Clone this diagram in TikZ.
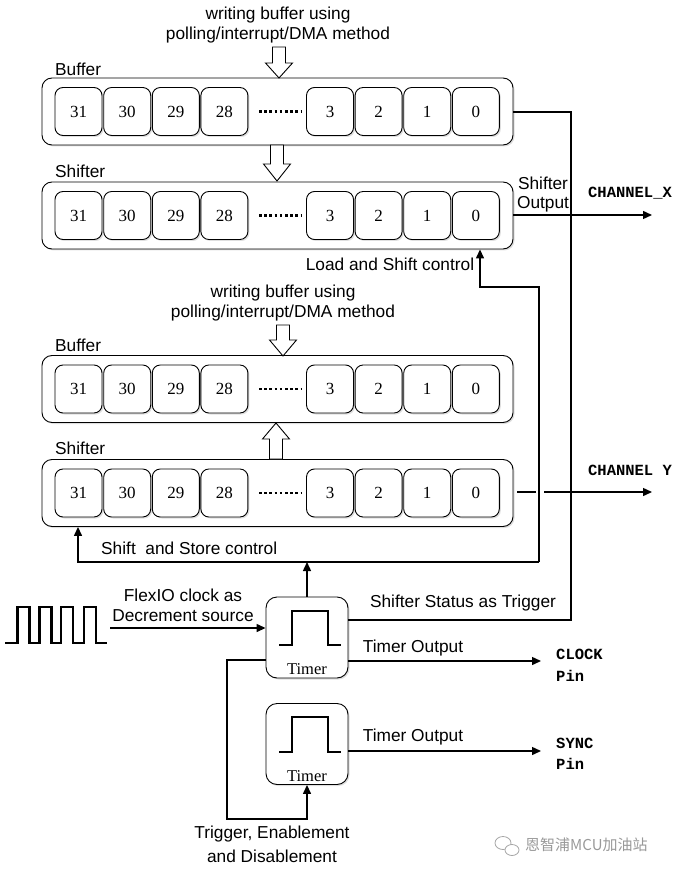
\documentclass[tikz,border=0pt]{standalone}
\usepackage{fontspec}
\setmainfont{Liberation Sans}
\newfontfamily\numfont{Liberation Serif}
\newfontfamily\chanfont{Liberation Mono}
\newfontfamily\cjkfont{Noto Sans CJK SC}
\usetikzlibrary{arrows.meta,shadows}
\begin{document}
\begin{tikzpicture}[x=1pt,y=-1pt,
  lbl/.style={font=\fontsize{17.3}{20}\selectfont, inner sep=0pt},
  chan/.style={font=\chanfont\bfseries\fontsize{15.5}{19}\selectfont, inner sep=0pt},
  outerbox/.style={draw, line width=0.9pt, rounded corners=10pt, fill=white,
    minimum width=471pt, minimum height=67pt, inner sep=0pt,
    drop shadow={opacity=0.25, shadow xshift=1.5pt, shadow yshift=-1.5pt}},
  cellbox/.style={draw, line width=0.9pt, rounded corners=8pt, fill=white,
    minimum width=47pt, minimum height=48pt, inner sep=0pt,
    font=\numfont\fontsize{17}{20}\selectfont,
    drop shadow={opacity=0.25, shadow xshift=1.5pt, shadow yshift=-1.5pt}},
  timerbox/.style={draw, line width=0.9pt, rounded corners=11pt, fill=white,
    minimum width=82pt, minimum height=81pt, inner sep=0pt,
    drop shadow={opacity=0.25, shadow xshift=1.5pt, shadow yshift=-1.5pt}},
  timerlbl/.style={font=\numfont\fontsize{16.5}{19}\selectfont, inner sep=0pt},
  hollow/.style={draw, line width=0.9pt, fill=white},
  wire/.style={line width=1.4pt},
  arr/.style={line width=1.4pt, -{Triangle[length=9pt,width=8pt]}},
  wave/.style={line width=2.6pt},
  dotsline/.style={line width=2.8pt, dash pattern=on 2.6pt off 2.6pt}
]
\useasboundingbox (0,0) rectangle (679,874);

% ---------- boxes ----------
\node[outerbox] (buf1) at (277.5,111.5) {};
\node[outerbox] (sh1)  at (277.5,215.5) {};
\node[outerbox] (buf2) at (277.5,389) {};
\node[outerbox] (sh2)  at (277.5,493) {};

\foreach \b in {buf1,sh1,buf2,sh2}{
  \foreach \n/\xx in {31/78.5,30/127.2,29/175.8,28/224.4,3/330,2/378.6,1/427.2,0/475.8}{
    \node[cellbox] (\b-\n) at (\xx,0 |- \b.center) {\n};
  }
  \draw[dotsline] (259,0 |- \b.center) -- (302,0 |- \b.center);
}

% ---------- box labels ----------
\node[lbl, anchor=west] (lbuf1) at (55,69) {Buffer};
\node[lbl, anchor=west] (lsh1) at (55,171) {Shifter};
\node[lbl, anchor=west] (lbuf2) at (55,345) {Buffer};
\node[lbl, anchor=west] (lsh2) at (55,448) {Shifter};

\node[lbl] (w1a) at (278,15) {writing buffer using};
\node[lbl] (w1b) at (278,35) {polling/interrupt/DMA method};
\node[lbl] (w2a) at (283,293) {writing buffer using};
\node[lbl] (w2b) at (283,313) {polling/interrupt/DMA method};

% ---------- hollow arrows ----------
\draw[hollow] (272.5,47) -- (285.5,47) -- (285.5,63) -- (292.5,63) -- (279,78) -- (265.5,63) -- (272.5,63) -- cycle;
\draw[hollow] (270.5,145) -- (283.5,145) -- (283.5,164) -- (290.5,164) -- (277,181) -- (263.5,164) -- (270.5,164) -- cycle;
\draw[hollow] (276.5,325) -- (289.5,325) -- (289.5,340) -- (296.5,340) -- (283,356) -- (269.5,340) -- (276.5,340) -- cycle;
\draw[hollow] (269.5,459) -- (282.5,459) -- (282.5,439) -- (289.5,439) -- (276,423) -- (262.5,439) -- (269.5,439) -- cycle;

% ---------- right side outputs ----------
\coordinate (vx) at (571,112);
\coordinate (chx) at (652,215);
\coordinate (chy) at (652,492);
\node[lbl] (sho1) at (543,183) {Shifter};
\node[lbl] (sho2) at (543,204) {Output};
\node[chan] (chxl) at (630,193) {CHANNEL\_X};
\node[chan] (chyl) at (630,470) {CHANNEL Y};

\draw[arr] (sh1.east |- chx) -- (chx);
\draw[wire] (517,492) -- (536,492);
\draw[arr] (544,492) -- (chy);

% ---------- timers ----------
\node[timerbox] (t1) at (307,637.5) {};
\node[timerbox] (t2) at (307,744) {};
\node[timerlbl] (t1l) at (307,669) {Timer};
\node[timerlbl] (t2l) at (307,776) {Timer};
\draw[wave] (279,645) -- (292,645) -- (292,611) -- (328,611) -- (328,645) -- (341,645);
\draw[wave] (279,752) -- (292,752) -- (292,717) -- (328,717) -- (328,752) -- (341,752);

% shifter status as trigger
\draw[wire] (buf1.east |- vx) -- (vx) -- (571,620) -- (t1.east |- 0,620);
\node[lbl] (sst) at (463,603) {Shifter Status as Trigger};

% load & shift / shift & store controls
\coordinate (j1) at (539,562);
\draw[arr] (j1) -- (539,287) -- (480,287) -- (480,0 |- sh1.south);
\node[lbl] (lsc) at (390,264) {Load and Shift control};
\draw[arr] (j1) -- (78,562) -- (78,0 |- sh2.south);
\node[lbl, anchor=west] (ssc) at (101,548) {Shift\ \ and Store control};
\draw[arr] (t1.north) -- (307,562);

% clock source
\draw[wave] (5,643) -- (17.5,643) -- (17.5,607) -- (29.7,607) -- (29.7,643) -- (39.3,643) -- (39.3,607) -- (51.5,607) -- (51.5,643) -- (61,643) -- (61,607) -- (73,607) -- (73,643) -- (84,643) -- (84,607) -- (96,607) -- (96,643) -- (107,643);
\coordinate (clk) at (110,628);
\draw[arr] (clk) -- (t1.west |- clk);
\node[lbl] (fc1) at (183,595) {FlexIO clock as};
\node[lbl] (fc2) at (183,616) {Decrement source};

% timer outputs
\coordinate (o1) at (541,661);
\coordinate (o2) at (541,751);
\draw[arr] (t1.east |- o1) -- (o1);
\draw[arr] (t2.east |- o2) -- (o2);
\node[lbl] (to1) at (413,648) {Timer Output};
\node[lbl] (to2) at (413,737) {Timer Output};
\node[chan, anchor=west] (clkl) at (556,654) {CLOCK};
\node[chan, anchor=west] (clkp) at (556,676) {Pin};
\node[chan, anchor=west] (synl) at (556,743) {SYNC};
\node[chan, anchor=west] (synp) at (556,764) {Pin};

% trigger, enablement
\draw[arr] (t1.west |- 0,660) -- (227,660) -- (227,819) -- (307,819) -- (t2.south);
\node[lbl] (te1) at (272,834) {Trigger, Enablement};
\node[lbl] (te2) at (272,856) {and Disablement};

% watermark
\draw[gray!70, line width=0.8pt] (503,843) ellipse (8pt and 6.5pt);
\draw[gray!70, line width=0.8pt, fill=white] (512,850) ellipse (7pt and 5.5pt);
\node[font=\cjkfont\fontsize{15}{18}\selectfont, text=gray!80, anchor=west, inner sep=0pt] (wm) at (525,845) {恩智浦MCU加油站};
\end{tikzpicture}
\end{document}
